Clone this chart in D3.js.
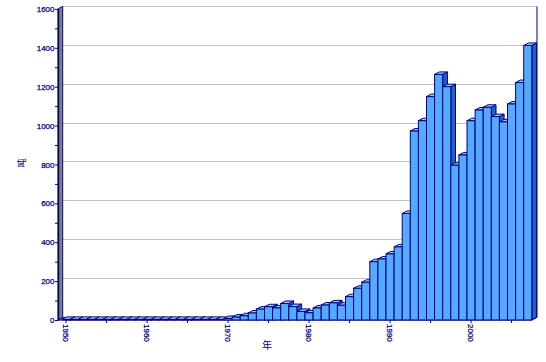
<!DOCTYPE html>
<html><head><meta charset="utf-8">
<script src="https://cdn.jsdelivr.net/npm/d3@7"></script>
<style>
html,body{margin:0;padding:0;background:#fff;}
svg{display:block;}
</style></head>
<body>
<svg id="c" width="546" height="362"></svg>
<script>
const years = [1950,1951,1952,1953,1954,1955,1956,1957,1958,1959,
  1960,1961,1962,1963,1964,1965,1966,1967,1968,1969,
  1970,1971,1972,1973,1974,1975,1976,1977,1978,1979,
  1980,1981,1982,1983,1984,1985,1986,1987,1988,1989,
  1990,1991,1992,1993,1994,1995,1996,1997,1998,1999,
  2000,2001,2002,2003,2004,2005,2006,2007];
const values = [3,3,3,3,3,3,3,3,3,3,
  3,3,3,3,3,3,3,3,3,3,
  8,15,22,36,56,68,62,85,69,44,
  37,62,77,88,76,120,163,194,300,314,
  340,376,548,972,1025,1149,1263,1200,796,849,
  1025,1080,1094,1046,1019,1111,1221,1412];
const yTicks = [0,200,400,600,800,1000,1200,1400,1600];
const yMinorTicks = [100,300,500,700,900,1100,1300,1500];
const xLabelYears = [1950,1960,1970,1980,1990,2000];
const xMinorYears = [1955,1965,1975,1985,1995,2005];
const yTitle = "吨";
const xTitle = "年";

const navy = "#000080";
const DX = 4.7, DY = 2.5;
const svg = d3.select("#c");
const x = d3.scaleBand().domain(years).range([62, 531.8]).padding(0);
const y = d3.scaleLinear().domain([0, 1600]).range([320, 8.9]);
const bw = x.bandwidth();
const x0 = 58, xEnd = 531.8;

// gridlines on back wall
svg.append("g").selectAll("line").data(yTicks.slice(1)).join("line")
  .attr("x1", x0 + DX).attr("x2", xEnd + DX + 0.5)
  .attr("y1", d => y(d) - DY).attr("y2", d => y(d) - DY)
  .attr("stroke", "#c0c0c0").attr("stroke-width", 1).attr("shape-rendering","crispEdges");

// right back edge
svg.append("line").attr("x1", xEnd + DX + 0.5).attr("x2", xEnd + DX + 0.5)
  .attr("y1", y(1600) - DY).attr("y2", y(0) - DY)
  .attr("stroke", navy).attr("stroke-width", 1);

// left wall
svg.append("path")
  .attr("d", `M${x0},${y(0)}L${x0},${y(1600)}L${x0+DX},${y(1600)-DY}L${x0+DX},${y(0)-DY}Z`)
  .attr("fill", "#808080").attr("stroke", navy).attr("stroke-width", 1);

// floor
svg.append("path")
  .attr("d", `M${x0},${y(0)}L${xEnd},${y(0)}L${xEnd+DX},${y(0)-DY}L${x0+DX},${y(0)-DY}Z`)
  .attr("fill", "#99ccff").attr("stroke", navy).attr("stroke-width", 1);

// bars
const bars = svg.append("g");
years.forEach((yr, i) => {
  const v = values[i];
  const bx = x(yr), yt = y(v), yb = y(0);
  const g = bars.append("g");
  g.append("path")
    .attr("d", `M${bx+bw},${yt}L${bx+bw+DX},${yt-DY}L${bx+bw+DX},${yb-DY}L${bx+bw},${yb}Z`)
    .attr("fill", "#1f5fc8").attr("stroke", navy).attr("stroke-width", 1).attr("stroke-linejoin","round");
  g.append("path")
    .attr("d", `M${bx},${yt}L${bx+DX},${yt-DY}L${bx+bw+DX},${yt-DY}L${bx+bw},${yt}Z`)
    .attr("fill", "#99ccff").attr("stroke", navy).attr("stroke-width", 1).attr("stroke-linejoin","round");
  g.append("rect").attr("x", bx).attr("y", yt).attr("width", bw).attr("height", yb - yt)
    .attr("fill", "#55aaff").attr("stroke", navy).attr("stroke-width", 1);
});

const labelFont = "'Liberation Sans', Arial, sans-serif";
// y axis
const yAxis = svg.append("g").attr("transform", `translate(${x0},0)`)
  .call(d3.axisLeft(y).tickValues(yTicks).tickSize(3).tickSizeOuter(0).tickFormat(d3.format("d")));
yAxis.select(".domain").attr("stroke", navy).attr("stroke-width", 1.5);
yAxis.selectAll(".tick line").attr("stroke", navy);
yAxis.selectAll("text").attr("fill", navy).attr("x", -3.5)
  .attr("stroke", navy).attr("stroke-width", 0.25)
  .style("font-family", labelFont).style("font-size", "8px");
const yMinor = svg.append("g").attr("transform", `translate(${x0},0)`)
  .call(d3.axisLeft(y).tickValues(yMinorTicks).tickSize(3).tickFormat(""));
yMinor.select(".domain").remove();
yMinor.selectAll(".tick line").attr("stroke", navy);

// x axis
const xAxis = svg.append("g").attr("transform", `translate(0,${y(0)})`)
  .call(d3.axisBottom(x).tickValues(xLabelYears).tickSize(3).tickSizeOuter(0));
xAxis.select(".domain").remove();
xAxis.selectAll(".tick line").attr("stroke", navy);
xAxis.selectAll("text").attr("fill", navy)
  .attr("stroke", navy).attr("stroke-width", 0.25)
  .attr("transform", "rotate(90)").attr("x", 4).attr("y", 0).attr("dy", "0.35em")
  .style("text-anchor", "start")
  .style("font-family", labelFont).style("font-size", "8px");
const xMinor = svg.append("g").attr("transform", `translate(0,${y(0)})`)
  .call(d3.axisBottom(x).tickValues(xMinorYears).tickSize(3).tickFormat(""));
xMinor.select(".domain").remove();
xMinor.selectAll(".tick line").attr("stroke", navy);

// titles
svg.append("text").attr("transform", "translate(21,163) rotate(-90)")
  .attr("text-anchor", "middle").attr("dominant-baseline", "central")
  .attr("fill", navy).style("font-family", "'Noto Sans CJK SC', sans-serif").style("font-size", "9px")
  .text(yTitle);
svg.append("text").attr("x", 267).attr("y", 344)
  .attr("text-anchor", "middle").attr("dominant-baseline", "central")
  .attr("fill", navy).style("font-family", "'Noto Sans CJK SC', sans-serif").style("font-size", "10px")
  .text(xTitle);
</script>
</body></html>
